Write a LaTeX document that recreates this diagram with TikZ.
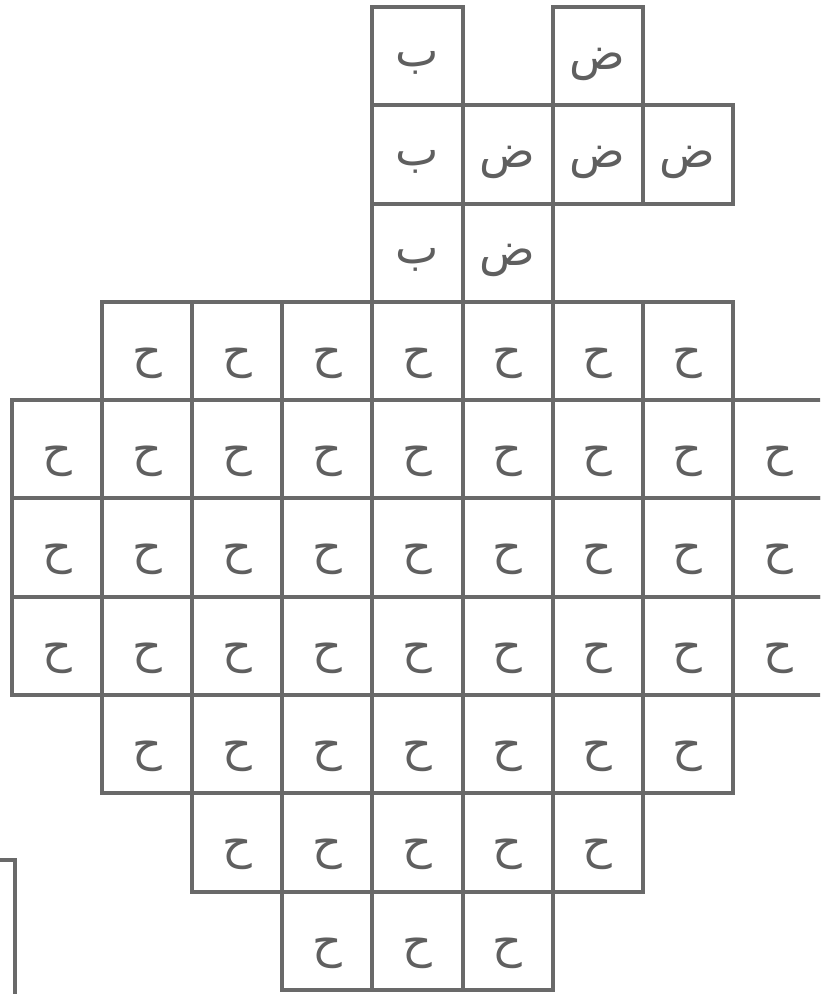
\documentclass[tikz,border=0pt]{standalone}
\usepackage{fontspec}
\newfontfamily\arabicfont[Script=Arabic]{DejaVu Sans}
\TeXXeTstate=1
\definecolor{linegray}{RGB}{105,105,105}
\definecolor{lettergray}{RGB}{95,95,95}
\begin{document}
\begin{tikzpicture}[x=1pt,y=1pt,
  cell/.style={draw=linegray, line width=4pt, minimum width=90.1pt, minimum height=98.3pt,
    inner sep=0pt, anchor=center},
  letter/.style={inner sep=0pt, font=\arabicfont\fontsize{46}{50}\selectfont, text=lettergray}]
\useasboundingbox (0,0) rectangle (820,994);
\clip (0,0) rectangle (820,994);
\fill[white] (0,0) rectangle (820,994);
% top group
\foreach \r/\c/\l/\s in {0/4/ب/-7, 0/6/ض/-8, 1/4/ب/-7, 1/5/ض/-8, 1/6/ض/-8, 1/7/ض/-8, 2/4/ب/-7, 2/5/ض/-8}
  \node[cell, label={[letter, yshift=\s pt]center:\beginR\l\endR}] (c\r-\c)
    at ({12+90.1*(\c+0.5)}, {994-7-98.3*(\r+0.5)}) {};
% hah rows
\foreach \r/\a/\b in {3/1/7, 4/0/8, 5/0/8, 6/0/8, 7/1/7, 8/2/6, 9/3/5}
  \foreach \c in {\a,...,\b}
    \node[cell, label={[letter, yshift=-12pt]center:\beginR ح\endR}] (c\r-\c)
      at ({12+90.1*(\c+0.5)}, {994-7-98.3*(\r+0.5)}) {};
% partial frame at lower left
\draw[linegray, line width=4pt] (-5,134) -- (15,134) -- (15,-5);
\end{tikzpicture}
\end{document}
